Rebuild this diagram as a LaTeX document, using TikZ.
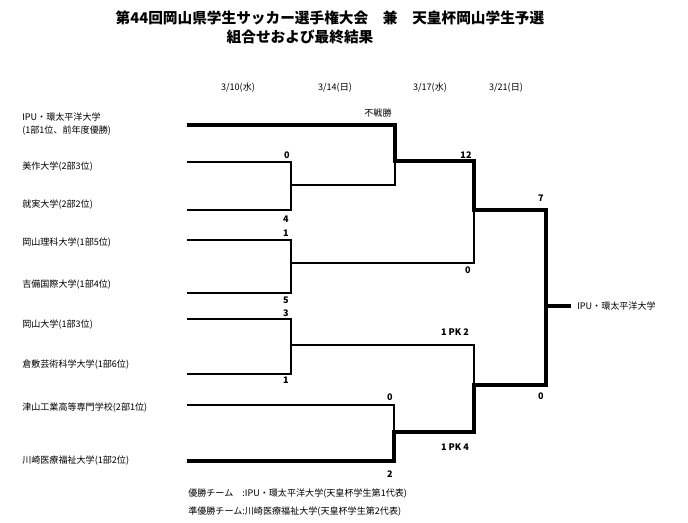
\documentclass[tikz,border=0pt]{standalone}
\usepackage{fontspec}
\setmainfont{Noto Sans CJK JP}
\begin{document}
\begin{tikzpicture}[x=0.75pt,y=-0.75pt,
 thin line/.style={line width=0.9pt},
 thick line/.style={line width=2.6pt},
 lbl/.style={font=\fontsize{6.8pt}{8pt}\selectfont,anchor=west,inner sep=0},
 sc/.style={font=\fontsize{6.8pt}{8pt}\selectfont\bfseries,inner sep=0},
 ttl/.style={font=\fontsize{11pt}{13pt}\selectfont\bfseries,inner sep=0}]
\useasboundingbox (0,0) rectangle (688,522);
\node[ttl] (t1) at (330,18) {第44回岡山県学生サッカー選手権大会　兼　天皇杯岡山学生予選};
\node[ttl] (t2) at (300,37) {組合せおよび最終結果};
\node[lbl,anchor=center] (d1) at (238,88) {3/10(水)};
\node[lbl,anchor=center] (d2) at (335,88) {3/14(日)};
\node[lbl,anchor=center] (d3) at (430,88) {3/17(水)};
\node[lbl,anchor=center] (d4) at (506,88) {3/21(日)};
\node[lbl] (n1) at (22,117) {IPU・環太平洋大学};
\node[lbl] (n1b) at (22,131) {(1部1位、前年度優勝)};
\node[lbl] (n2) at (22,167) {美作大学(2部3位)};
\node[lbl] (n3) at (22,205) {就実大学(2部2位)};
\node[lbl] (n4) at (22,243) {岡山理科大学(1部5位)};
\node[lbl] (n5) at (22,285) {吉備国際大学(1部4位)};
\node[lbl] (n6) at (22,325) {岡山大学(1部3位)};
\node[lbl] (n7) at (22,365) {倉敷芸術科学大学(1部6位)};
\node[lbl] (n8) at (22,408) {津山工業高等専門学校(2部1位)};
\node[lbl] (n9) at (22,461) {川崎医療福祉大学(1部2位)};
\node[lbl] (w) at (577,306) {IPU・環太平洋大学};
\coordinate (wend) at (571,306);
% thin lines
\draw[thin line] (187,162) -| (291,210) -- (187,210);
\draw[thin line] (291,185) -| (395,161);
\draw[thin line] (187,240) -| (291,293) -- (187,293);
\draw[thin line] (291,263) -| (474,210);
\draw[thin line] (187,319) -| (291,374) -- (187,374);
\draw[thin line] (291,345) -| (474,385);
\draw[thin line] (187,405) -| (394,432);
% thick winner paths
\draw[thick line] (187,125) -| (395,161) -| (474,210) -| (546,306) -- (wend);
\draw[thick line] (187,461) -| (394,432) -| (474,385) -| (546,306);
% scores
\node[lbl,anchor=center] (s0) at (378,113) {不戦勝};
\foreach \x/\y/\t [count=\i] in {287/155/0,286/219/4,286/233/1,286/300/5,286/313/3,286/380/1,466/155/12,468/270/0,541/198/7,541/396/0,455/332/1 PK 2,455/447/1 PK 4,390/397/0,390/474/2}
  \node[sc] (s\i) at (\x,\y) {\t};
\node[lbl] (f1) at (188,494) {優勝チーム\quad:IPU・環太平洋大学(天皇杯学生第1代表)};
\node[lbl] (f2) at (188,512) {準優勝チーム:川崎医療福祉大学(天皇杯学生第2代表)};
\end{tikzpicture}
\end{document}
